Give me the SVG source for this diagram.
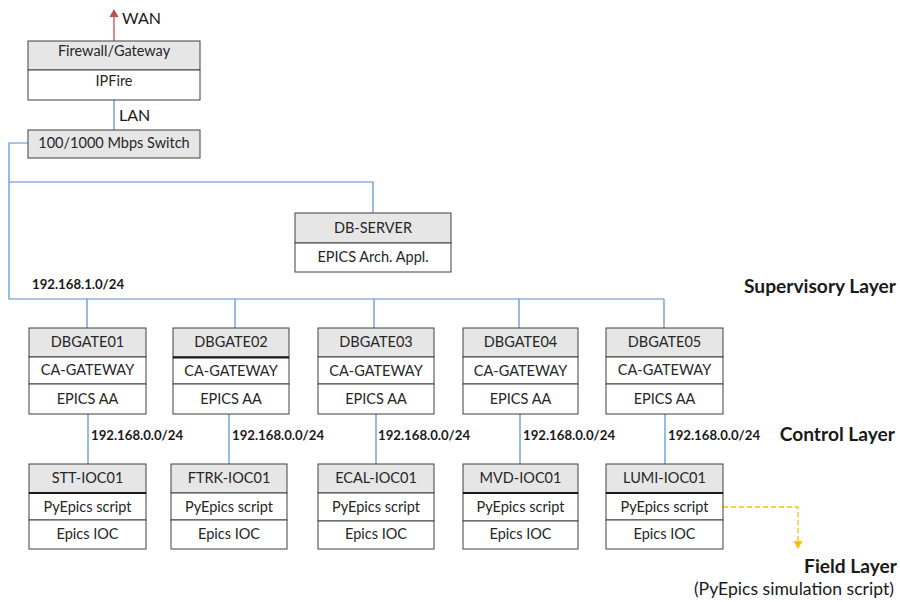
<svg xmlns="http://www.w3.org/2000/svg" width="900" height="602" viewBox="0 0 900 602">
<defs>
<style>
.hd{fill:#e7e6e6;stroke:#404040;stroke-width:1}
.rw{fill:#ffffff;stroke:#404040;stroke-width:1}
.t{font-family:Lato,"Liberation Sans",sans-serif;font-size:14.5px;fill:#262626;text-anchor:middle}
.ip{font-family:Lato,"Liberation Sans",sans-serif;font-size:13.2px;font-weight:bold;fill:#1a1a1a}
.ly{font-family:Lato,"Liberation Sans",sans-serif;font-size:19.2px;font-weight:bold;fill:#1a1a1a;text-anchor:end}
.lb{font-family:Lato,"Liberation Sans",sans-serif;font-size:16px;fill:#1a1a1a}
.bl{fill:none;stroke:#5a8ad6;stroke-width:1.2}
.thick{stroke:#1a1a1a;stroke-width:2}
</style>
</defs>

<g id="connectors">
<line x1="114" y1="41" x2="114" y2="11" stroke="#c0504d" stroke-width="1.3"/>
<path d="M109.5,17 L114,9 L118.5,17 Z" fill="#c0504d"/>
<line class="bl" x1="114" y1="100" x2="114" y2="130"/>
<path class="bl" d="M28,143 H9 V299 H664"/>
<path class="bl" d="M9,182 H373 V213"/>
<line class="bl" x1="87" y1="299" x2="87" y2="328"/>
<line class="bl" x1="235" y1="299" x2="235" y2="328"/>
<line class="bl" x1="374" y1="299" x2="374" y2="328"/>
<line class="bl" x1="519" y1="299" x2="519" y2="328"/>
<line class="bl" x1="664" y1="299" x2="664" y2="328"/>
<line class="bl" x1="88" y1="414" x2="88" y2="464"/>
<line class="bl" x1="229" y1="414" x2="229" y2="464"/>
<line class="bl" x1="376" y1="414" x2="376" y2="464"/>
<line class="bl" x1="520" y1="414" x2="520" y2="464"/>
<line class="bl" x1="665" y1="414" x2="665" y2="464"/>
<path d="M723,507 H798 V541" fill="none" stroke="#ffc000" stroke-width="1.3" stroke-dasharray="5,3"/>
<path d="M793.5,541 L802.5,541 L798,549 Z" fill="#ffc000"/>
</g>

<g id="labels">
<text class="lb" x="122" y="24">WAN</text>
<text class="lb" x="119" y="121">LAN</text>
<text class="ip" x="32" y="289">192.168.1.0/24</text>
<text class="ip" x="91" y="440">192.168.0.0/24</text>
<text class="ip" x="232" y="440">192.168.0.0/24</text>
<text class="ip" x="378" y="440">192.168.0.0/24</text>
<text class="ip" x="523" y="440">192.168.0.0/24</text>
<text class="ip" x="668" y="440">192.168.0.0/24</text>
<text class="ly" x="896" y="293">Supervisory Layer</text>
<text class="ly" x="895" y="441">Control Layer</text>
<text class="ly" x="897" y="573">Field Layer</text>
<text class="lb" x="894" y="595" text-anchor="end" style="font-size:17.6px">(PyEpics simulation script)</text>
</g>

<g id="firewall">
<rect class="hd" x="28" y="41" width="172" height="29"/>
<rect class="rw" x="28" y="70" width="172" height="30"/>
<text class="t" x="114" y="56">Firewall/Gateway</text>
<text class="t" x="114" y="86">IPFire</text>
</g>

<g id="switch">
<rect class="hd" x="28" y="130" width="172" height="28"/>
<text class="t" x="114" y="148">100/1000 Mbps Switch</text>
</g>

<g id="dbserver">
<rect class="hd" x="295" y="213" width="156" height="30"/>
<rect class="rw" x="295" y="243" width="156" height="29"/>
<text class="t" x="373" y="233">DB-SERVER</text>
<text class="t" x="373" y="262">EPICS Arch. Appl.</text>
</g>

<g id="dbgate01">
<rect class="hd" x="29" y="328" width="117" height="29"/>
<rect class="rw" x="29" y="357" width="117" height="27"/>
<rect class="rw" x="29" y="384" width="117" height="30"/>
<text class="t" x="87.5" y="347">DBGATE01</text>
<text class="t" x="87.5" y="375">CA-GATEWAY</text>
<text class="t" x="87.5" y="404">EPICS AA</text>
</g>
<g id="dbgate02">
<rect class="hd" x="173" y="328" width="116" height="29"/>
<rect class="rw" x="173" y="357" width="116" height="27"/>
<rect class="rw" x="173" y="384" width="116" height="30"/>
<line class="thick" x1="173" y1="357.5" x2="289" y2="357.5"/>
<text class="t" x="231" y="347">DBGATE02</text>
<text class="t" x="231" y="376">CA-GATEWAY</text>
<text class="t" x="231" y="404">EPICS AA</text>
</g>
<g id="dbgate03">
<rect class="hd" x="318" y="328" width="116" height="29"/>
<rect class="rw" x="318" y="357" width="116" height="27"/>
<rect class="rw" x="318" y="384" width="116" height="30"/>
<text class="t" x="376" y="347">DBGATE03</text>
<text class="t" x="376" y="376">CA-GATEWAY</text>
<text class="t" x="376" y="404">EPICS AA</text>
</g>
<g id="dbgate04">
<rect class="hd" x="463" y="328" width="115" height="29"/>
<rect class="rw" x="463" y="357" width="115" height="27"/>
<rect class="rw" x="463" y="384" width="115" height="30"/>
<text class="t" x="520.5" y="347">DBGATE04</text>
<text class="t" x="520.5" y="376">CA-GATEWAY</text>
<text class="t" x="520.5" y="404">EPICS AA</text>
</g>
<g id="dbgate05">
<rect class="hd" x="606" y="328" width="117" height="29"/>
<rect class="rw" x="606" y="357" width="117" height="27"/>
<rect class="rw" x="606" y="384" width="117" height="30"/>
<text class="t" x="664.5" y="347">DBGATE05</text>
<text class="t" x="664.5" y="375">CA-GATEWAY</text>
<text class="t" x="664.5" y="404">EPICS AA</text>
</g>

<g id="stt-ioc01">
<rect class="hd" x="29" y="464" width="117" height="29"/>
<rect class="rw" x="29" y="493" width="117" height="27"/>
<rect class="rw" x="29" y="520" width="117" height="29"/>
<line class="thick" x1="29" y1="493" x2="146" y2="493"/>
<text class="t" x="87.5" y="483">STT-IOC01</text>
<text class="t" x="87.5" y="512">PyEpics script</text>
<text class="t" x="87.5" y="539">Epics IOC</text>
</g>
<g id="ftrk-ioc01">
<rect class="hd" x="171" y="464" width="116" height="29"/>
<rect class="rw" x="171" y="493" width="116" height="27"/>
<rect class="rw" x="171" y="520" width="116" height="29"/>
<text class="t" x="229" y="483">FTRK-IOC01</text>
<text class="t" x="229" y="512">PyEpics script</text>
<text class="t" x="229" y="539">Epics IOC</text>
</g>
<g id="ecal-ioc01">
<rect class="hd" x="318" y="464" width="116" height="29"/>
<rect class="rw" x="318" y="493" width="116" height="28"/>
<rect class="rw" x="318" y="521" width="116" height="28"/>
<text class="t" x="376" y="483">ECAL-IOC01</text>
<text class="t" x="376" y="512">PyEpics script</text>
<text class="t" x="376" y="539">Epics IOC</text>
</g>
<g id="mvd-ioc01">
<rect class="hd" x="463" y="464" width="115" height="29"/>
<rect class="rw" x="463" y="493" width="115" height="28"/>
<rect class="rw" x="463" y="521" width="115" height="28"/>
<line class="thick" x1="463" y1="493" x2="578" y2="493"/>
<text class="t" x="520.5" y="483">MVD-IOC01</text>
<text class="t" x="520.5" y="512">PyEpics script</text>
<text class="t" x="520.5" y="539">Epics IOC</text>
</g>
<g id="lumi-ioc01">
<rect class="hd" x="606" y="464" width="117" height="29"/>
<rect class="rw" x="606" y="493" width="117" height="27"/>
<rect class="rw" x="606" y="520" width="117" height="29"/>
<line class="thick" x1="606" y1="493" x2="723" y2="493"/>
<text class="t" x="664.5" y="483">LUMI-IOC01</text>
<text class="t" x="664.5" y="512">PyEpics script</text>
<text class="t" x="664.5" y="539">Epics IOC</text>
</g>
</svg>
